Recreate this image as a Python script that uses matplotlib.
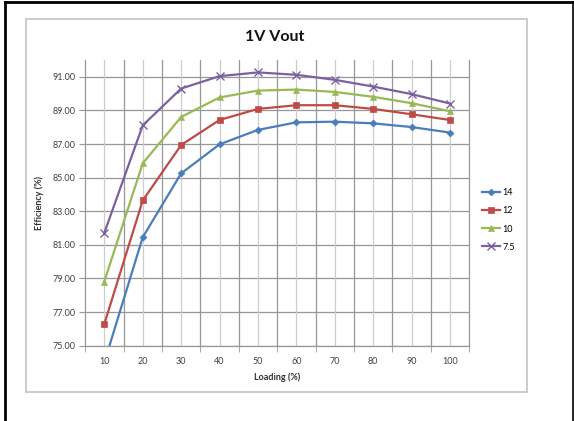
import numpy as np
import matplotlib
matplotlib.use("Agg")
import matplotlib.pyplot as plt
from matplotlib.lines import Line2D
from matplotlib.patches import Rectangle

plt.rcParams['font.family'] = ['Lato', 'DejaVu Sans']

loading = [10, 20, 30, 40, 50, 60, 70, 80, 90, 100]
eff_14 = [74.0, 81.45, 85.25, 86.98, 87.84, 88.29, 88.33, 88.23, 88.01, 87.68]
eff_12 = [76.29, 83.64, 86.94, 88.43, 89.09, 89.31, 89.31, 89.09, 88.77, 88.43]
eff_10 = [78.82, 85.85, 88.61, 89.77, 90.18, 90.24, 90.10, 89.81, 89.43, 88.95]
eff_75 = [81.71, 88.11, 90.30, 91.04, 91.26, 91.12, 90.82, 90.42, 89.97, 89.41]
series_names = ["14", "12", "10", "7.5"]
y_ticks = [75, 77, 79, 81, 83, 85, 87, 89, 91]

W, H = 574, 421
fig = plt.figure(figsize=(W / 100, H / 100), dpi=100)
ax = fig.add_axes([85.1 / W, 1 - 345.7 / H, (469.2 - 85.1) / W, (345.7 - 60) / H])

pos = np.arange(1, len(loading) + 1)
styles = [
    (eff_14, "#4A7EBB", "D", 3.5),
    (eff_12, "#BE4B48", "s", 5.0),
    (eff_10, "#98B954", "^", 5.0),
    (eff_75, "#7D60A0", "x", 5.5),
]
for (vals, col, mk, ms), name in zip(styles, series_names):
    ax.plot(pos, vals, color=col, lw=1.6, marker=mk, ms=ms, mec=col,
            mfc=col, mew=1.0 if mk == "x" else 0.5, label=name, clip_on=True)

ax.set_xlim(0.5, len(loading) + 0.5)
ax.set_ylim(75, 92)
ax.set_yticks(y_ticks)
ax.set_yticklabels([f"{v:.2f}" for v in y_ticks])
ax.set_xticks(pos)
ax.set_xticklabels([str(v) for v in loading])
ax.set_xticks(np.arange(0.5, len(loading) + 1, 1.0), minor=True)

# gridlines: category boundaries darker, category centres lighter
ax.grid(False)
for yv in y_ticks:
    ax.axhline(yv, color="#979797", lw=0.9, zorder=0)
for xb in np.arange(1.5, len(loading) + 0.5, 1.0):
    ax.axvline(xb, color="#979797", lw=0.9, zorder=0)
for xc in pos:
    ax.axvline(xc, color="#CDCDCD", lw=0.9, zorder=0)

ax.tick_params(axis="x", which="major", length=0, labelsize=6.5, colors="#404040", pad=8)
ax.tick_params(axis="x", which="minor", length=4, color="#979797", direction="out")
ax.tick_params(axis="y", length=4, labelsize=6.5, colors="#404040", color="#979797", direction="out", pad=3)
for s in ["left", "bottom", "right"]:
    ax.spines[s].set_color("#979797")
    ax.spines[s].set_linewidth(0.9)
ax.spines["top"].set_visible(False)

ax.set_xlabel("Loading (%)", fontsize=6.5, fontweight="bold", color="#303030", labelpad=5)
ax.set_ylabel("Efficiency (%)", fontsize=6.5, fontweight="bold", color="#303030", labelpad=6)

fig.text(275 / W, 1 - 37 / H, "1V Vout", ha="center", va="center",
         fontsize=11.5, fontweight="bold", color="#111111")

ax.legend(loc="center left", bbox_to_anchor=(478 / W, 1 - 220 / H),
          bbox_transform=fig.transFigure, frameon=False, fontsize=6.5,
          handlelength=2.0, handletextpad=0.3, labelspacing=1.0,
          borderaxespad=0)

# chart border and outer frame
fig.add_artist(Rectangle((25.5 / W, 1 - 392 / H), (526.5 - 25.5) / W, (392 - 19) / H,
                         transform=fig.transFigure, fill=False, ec="#C8C8C8", lw=1.3))
fig.add_artist(Line2D([4.5 / W, 4.5 / W], [0, 1 - 1.5 / H], transform=fig.transFigure,
                      color="black", lw=2.0))
fig.add_artist(Line2D([4.5 / W, 1], [1 - 1.5 / H, 1 - 1.5 / H], transform=fig.transFigure,
                      color="black", lw=2.0))
fig.add_artist(Line2D([572.5 / W, 572.5 / W], [0, 1 - 1.5 / H], transform=fig.transFigure,
                      color="black", lw=1.2))

fig.savefig("out.png", dpi=100)
